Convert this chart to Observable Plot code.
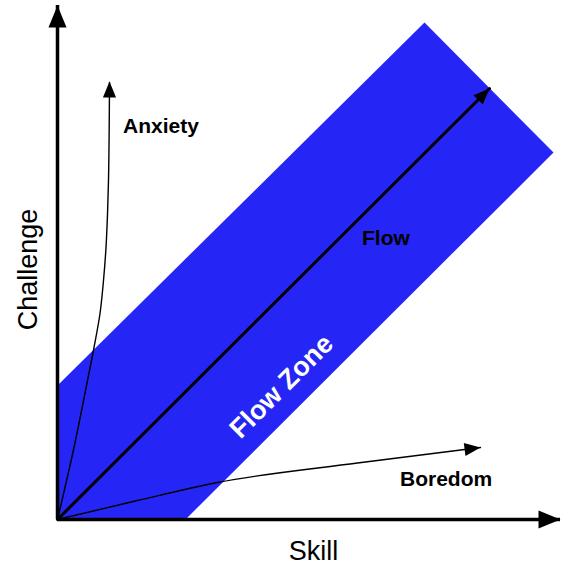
<!DOCTYPE html>
<html>
<head>
<meta charset="utf-8">
<script src="https://cdn.jsdelivr.net/npm/d3@7"></script>
<script src="https://cdn.jsdelivr.net/npm/@observablehq/plot@0.6"></script>
<style>
  html, body { margin: 0; padding: 0; background: #fff; }
  #chart svg { display: block; }
</style>
</head>
<body>
<div id="chart"></div>
<script>
// Flow zone band (polygon in skill/challenge units)
const bandX = [0, 73.4, 99.2, 25.6, 0];
const bandY = [26.8, 99.4, 73.4, 0, 0];

// Axis lines
const skillAxisX = [0, 100.6];
const challengeAxisY = [0, 102.8];

// Flow arrow (straight)
const flowX = [0, 86.4];
const flowY = [0, 86.2];

// Anxiety arrow (curved, read along the path)
const anxietyX = [0, 3.3, 6.0, 7.3, 8.5, 9.2, 9.7, 10.0, 10.2, 10.4];
const anxietyY = [0, 14.4, 27.8, 34.4, 41.2, 47.8, 54.4, 61.0, 67.8, 87.4];

// Boredom arrow (curved, read along the path)
const boredomX = [0, 16, 32, 60, 84.6];
const boredomY = [0, 3.8, 7.4, 11.3, 14.4];

// Arrowhead tips and directions (degrees clockwise from up)
const headNames = ["skill", "challenge", "flow", "anxiety", "boredom"];
const headX = [100.6, 0, 86.4, 10.4, 84.6];
const headY = [0, 102.8, 86.2, 87.6, 14.4];
const headAngle = [90, 0, 45, 0, 82.5];
const headSize = ["axis", "axis", "arrow", "arrow", "arrow"];

// Labels
const labelText = ["Anxiety", "Flow", "Boredom"];
const labelX = [13.1, 60.9, 68.5];
const labelY = [78.6, 56.2, 8];

const zoneText = "Flow Zone";
const zoneX = 44.8, zoneY = 26.6;

const xTitle = "Skill";
const yTitle = "Challenge";

const BLUE = "#2525f5";

const pts = (xs, ys) => xs.map((x, i) => ({x, y: ys[i]}));
const band = pts(bandX, bandY);
const anxiety = pts(anxietyX, anxietyY);
const boredom = pts(boredomX, boredomY);
const flow = pts(flowX, flowY);
const heads = headNames.map((n, i) => ({name: n, x: headX[i], y: headY[i], angle: headAngle[i], kind: headSize[i]}));
const labels = labelText.map((t, i) => ({text: t, x: labelX[i], y: labelY[i]}));

// Filled triangular arrowhead with its tip at the origin, pointing up
const headSymbol = {
  draw(ctx, size) {
    const r = Math.sqrt(size / Math.PI);
    ctx.moveTo(0, 0);
    ctx.lineTo(0.82 * r, 2 * r);
    ctx.lineTo(-0.82 * r, 2 * r);
    ctx.closePath();
  }
};

const FONT = "'Liberation Sans', Arial, Helvetica, sans-serif";

const chart = Plot.plot({
  width: 565,
  height: 567,
  marginLeft: 57,
  marginRight: 8,
  marginTop: 19,
  marginBottom: 48,
  x: {domain: [0, 100], axis: null},
  y: {domain: [0, 100], axis: null},
  style: {fontFamily: FONT, background: "white"},
  marks: [
    Plot.line(band, {x: "x", y: "y", fill: BLUE, stroke: "none"}),
    Plot.ruleY([0], {x1: skillAxisX[0], x2: skillAxisX[1], stroke: "black", strokeWidth: 3.5}),
    Plot.ruleX([0], {y1: challengeAxisY[0], y2: challengeAxisY[1], stroke: "black", strokeWidth: 3.5}),
    Plot.line(flow, {x: "x", y: "y", stroke: "black", strokeWidth: 3}),
    Plot.line(anxiety, {x: "x", y: "y", stroke: "black", strokeWidth: 1.4, curve: "monotone-y"}),
    Plot.line(boredom, {x: "x", y: "y", stroke: "black", strokeWidth: 1.4, curve: "monotone-x"}),
    Plot.dot(heads.filter(d => d.kind === "axis"), {x: "x", y: "y", rotate: "angle", symbol: headSymbol, r: 11, fill: "black", stroke: "none"}),
    Plot.dot(heads.filter(d => d.kind === "arrow"), {x: "x", y: "y", rotate: "angle", symbol: headSymbol, r: 8, fill: "black", stroke: "none"}),
    Plot.text(labels, {x: "x", y: "y", text: "text", textAnchor: "start", fontSize: 21, fontWeight: "bold", fill: "black"}),
    Plot.text([zoneText], {x: () => zoneX, y: () => zoneY, text: d => d, rotate: -45, fontSize: 27, fontWeight: "bold", fill: "white"}),
    Plot.text([xTitle], {x: () => 51.2, y: () => -6.4, text: d => d, fontSize: 27, fill: "black"}),
    Plot.text([yTitle], {x: () => -5.8, y: () => 50, text: d => d, rotate: -90, fontSize: 27, fill: "black"})
  ]
});
document.getElementById("chart").appendChild(chart);
</script>
</body>
</html>
